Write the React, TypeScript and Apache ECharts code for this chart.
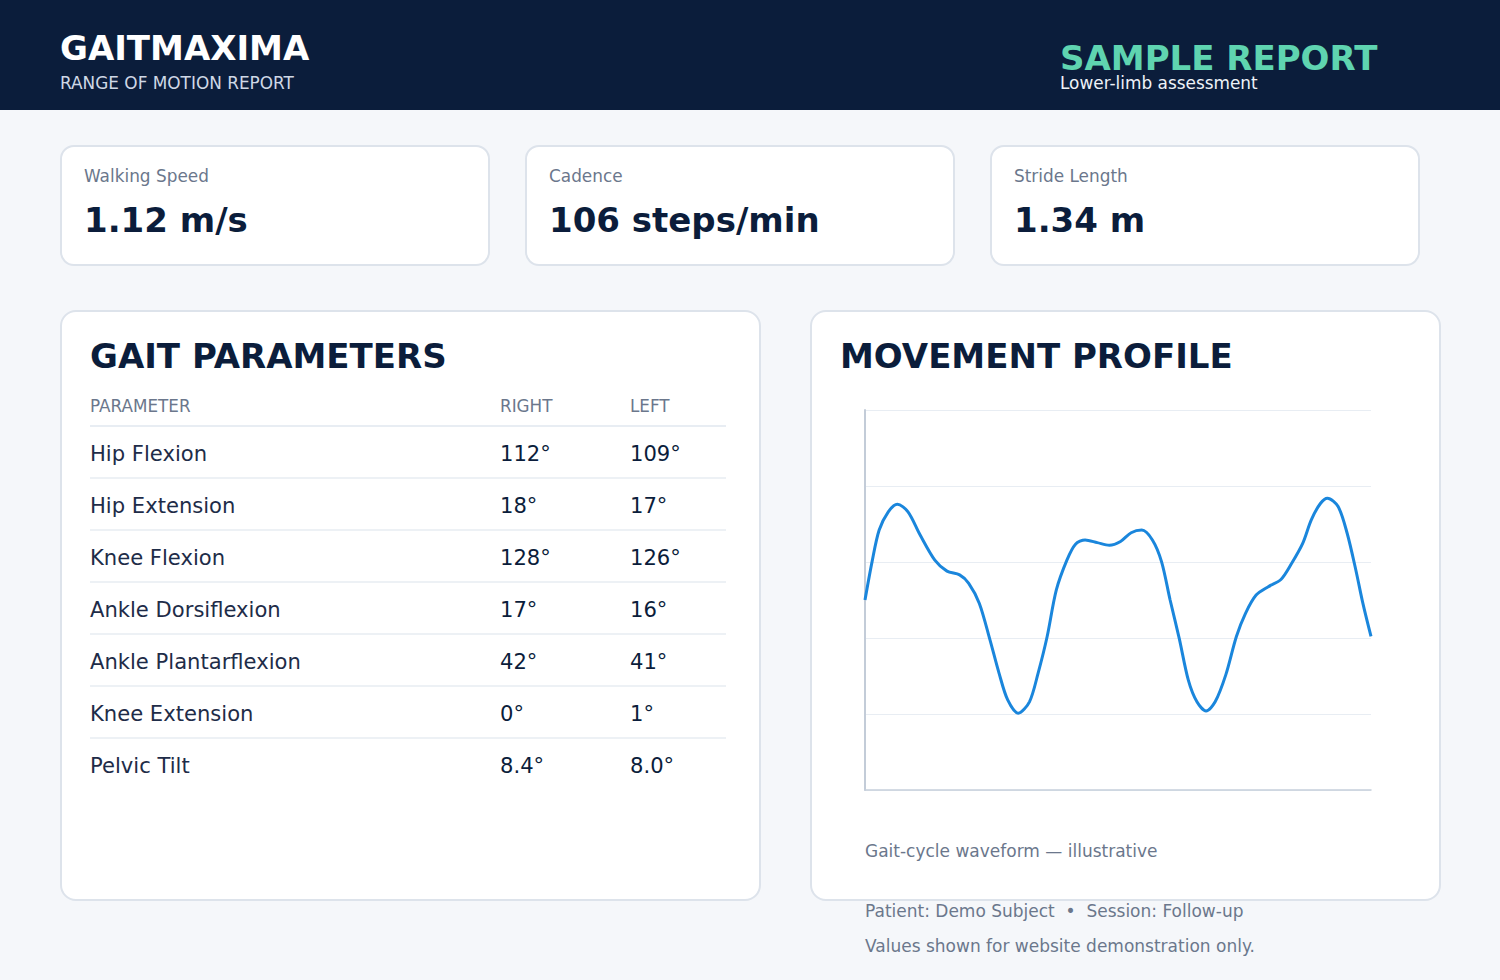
import { useEffect, useRef } from 'react';
import * as echarts from 'echarts';

// header / summary figures
const metricLabels = ['Walking Speed', 'Cadence', 'Stride Length'];
const metricValues = ['1.12 m/s', '106 steps/min', '1.34 m'];

// gait parameter table
const tableColumns = ['PARAMETER', 'RIGHT', 'LEFT'];
const parameterNames = [
  'Hip Flexion',
  'Hip Extension',
  'Knee Flexion',
  'Ankle Dorsiflexion',
  'Ankle Plantarflexion',
  'Knee Extension',
  'Pelvic Tilt',
];
const rightValues = ['112°', '18°', '128°', '17°', '42°', '0°', '8.4°'];
const leftValues = ['109°', '17°', '126°', '16°', '41°', '1°', '8.0°'];

// movement profile waveform (% of gait cycle -> relative angle)
const cyclePct = [
  0, 1.4, 2.8, 4.6, 6.4, 8.5, 10.9, 13.8, 16.2, 18.7, 20.5, 22.6, 24.7, 26.5, 28.2, 30.3,
  32.5, 34.2, 36.0, 37.8, 39.9, 41.6, 43.5, 45.9, 48.3, 50.5, 52.6, 54.7, 56.8, 58.6, 60.3,
  62.1, 63.9, 65.6, 67.4, 69.2, 71.3, 73.4, 75.2, 77.3, 79.7, 82.2, 84.3, 86.5, 88.2, 90.0,
  91.4, 93.5, 95.3, 97.0, 98.4, 100,
];
const waveform = [
  50.0, 60.1, 68.4, 73.2, 75.2, 73.2, 67.1, 60.5, 57.6, 56.6, 54.4, 49.1, 39.5, 30.7, 23.7, 20.2,
  23.2, 30.7, 40.4, 52.6, 60.5, 64.7, 65.8, 65.1, 64.4, 65.4, 67.7, 68.4, 65.8, 60.1, 50.0,
  39.9, 28.9, 23.2, 20.8, 23.2, 30.3, 40.4, 46.5, 51.3, 53.5, 55.4, 59.6, 64.9, 71.1, 75.4,
  76.8, 74.6, 67.5, 57.9, 49.1, 40.4,
];

const FONT = '"DejaVu Sans", Verdana, sans-serif';
const NAVY = '#0b1d3b';
const MUTED = '#6b778c';
const BORDER = '#dde3eb';

function Text({ x, y, size, color, bold, children }: {
  x: number; y: number; size: number; color: string; bold?: boolean; children: React.ReactNode;
}) {
  // y is the baseline; DejaVu puts the baseline ~0.846em below the top with line-height 1
  const top = y - size * 0.846 + (bold ? 0 : 1);
  return (
    <div style={{
      position: 'absolute', left: x, top, fontSize: size, lineHeight: 1,
      color, fontWeight: bold ? 700 : 400, whiteSpace: 'nowrap',
    }}>{children}</div>
  );
}

function Waveform() {
  const ref = useRef<HTMLDivElement>(null);

  useEffect(() => {
    if (!ref.current) return;
    const chart = echarts.init(ref.current, undefined, { renderer: 'svg' });
    chart.setOption({
      animation: false,
      grid: { left: 20, top: 15, right: 19, bottom: 25 },
      xAxis: {
        type: 'value',
        min: 0,
        max: 100,
        axisLine: { show: true, lineStyle: { color: '#c6cfdb', width: 1.5 } },
        axisTick: { show: false },
        axisLabel: { show: false },
        splitLine: { show: false },
      },
      yAxis: {
        type: 'value',
        min: 0,
        max: 100,
        interval: 20,
        axisLine: { show: true, lineStyle: { color: '#c3ccd8', width: 2 } },
        axisTick: { show: false },
        axisLabel: { show: false },
        splitLine: { lineStyle: { color: '#e8edf3', width: 1 } },
      },
      series: [{
        type: 'line',
        name: 'Gait cycle',
        smooth: 0.3,
        symbol: 'none',
        lineStyle: { color: '#1a86dc', width: 3 },
        data: cyclePct.map((p, i) => [p, waveform[i]]),
      }],
    });
    return () => chart.dispose();
  }, []);

  return <div ref={ref} style={{ position: 'absolute', left: 845, top: 395, width: 545, height: 420 }} />;
}

const card = (left: number, top: number, width: number, height: number, radius: number): React.CSSProperties => ({
  position: 'absolute', left, top, width, height, boxSizing: 'border-box',
  background: '#fff', border: `2px solid ${BORDER}`, borderRadius: radius,
});

export default function App() {
  const cardLefts = [60, 525, 990];
  const rowY = (i: number) => 460 + i * 52;

  return (
    <div style={{
      position: 'fixed', left: 0, top: 0, width: 1500, height: 980, overflow: 'hidden',
      background: '#f5f7fa', fontFamily: FONT,
    }}>
      {/* header band */}
      <div style={{ position: 'absolute', left: 0, top: 0, width: 1500, height: 110, background: NAVY }} />
      <Text x={60} y={60} size={34} color="#ffffff" bold>GAITMAXIMA</Text>
      <Text x={60} y={88} size={16.9} color="#cfd8e6">RANGE OF MOTION REPORT</Text>
      <Text x={1060} y={70} size={34} color="#5fd4b0" bold>SAMPLE REPORT</Text>
      <Text x={1060} y={88} size={16.9} color="#eef2f8">Lower-limb assessment</Text>

      {/* summary cards */}
      {metricLabels.map((label, i) => (
        <div key={label}>
          <div style={card(cardLefts[i], 145, 430, 121, 14)} />
          <Text x={cardLefts[i] + 24} y={181} size={16.9} color={MUTED}>{label}</Text>
          <Text x={cardLefts[i] + 24} y={232} size={34} color={NAVY} bold>{metricValues[i]}</Text>
        </div>
      ))}

      {/* gait parameter panel */}
      <div style={card(60, 310, 701, 591, 16)} />
      <Text x={90} y={368} size={34} color={NAVY} bold>GAIT PARAMETERS</Text>
      <Text x={90} y={411} size={16.8} color={MUTED}>{tableColumns[0]}</Text>
      <Text x={500} y={411} size={16.8} color={MUTED}>{tableColumns[1]}</Text>
      <Text x={630} y={411} size={16.8} color={MUTED}>{tableColumns[2]}</Text>
      <div style={{ position: 'absolute', left: 90, top: 425, width: 636, height: 2, background: '#e8edf3' }} />
      {parameterNames.map((name, i) => (
        <div key={name}>
          <Text x={90} y={rowY(i)} size={21.1} color="#1e2c48">{name}</Text>
          <Text x={500} y={rowY(i)} size={21.1} color={NAVY}>{rightValues[i]}</Text>
          <Text x={630} y={rowY(i)} size={21.1} color={NAVY}>{leftValues[i]}</Text>
          {i < parameterNames.length - 1 && (
            <div style={{ position: 'absolute', left: 90, top: rowY(i) + 17, width: 636, height: 2, background: '#edf1f5' }} />
          )}
        </div>
      ))}

      {/* movement profile panel */}
      <div style={card(810, 310, 631, 591, 16)} />
      <Text x={840} y={368} size={34} color={NAVY} bold>MOVEMENT PROFILE</Text>
      <Waveform />
      <Text x={865} y={856} size={17} color={MUTED}>Gait-cycle waveform — illustrative</Text>

      {/* footer notes */}
      <Text x={865} y={916} size={17} color={MUTED}>Patient: Demo Subject&nbsp; •&nbsp; Session: Follow-up</Text>
      <Text x={865} y={951} size={17} color={MUTED}>Values shown for website demonstration only.</Text>
    </div>
  );
}
